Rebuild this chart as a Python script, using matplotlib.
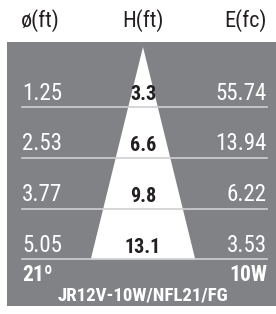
import matplotlib
matplotlib.use('Agg')
import matplotlib.pyplot as plt
from matplotlib import font_manager

# Data
diameters = ['1.25', '2.53', '3.77', '5.05']
heights = ['3.3', '6.6', '9.8', '13.1']
illuminance = ['55.74', '13.94', '6.22', '3.53']
headers = ['ø(ft)', 'H(ft)', 'E(fc)']
beam_angle = '21º'
wattage = '10W'
model = 'JR12V-10W/NFL21/FG'

names = {f.name for f in font_manager.fontManager.ttflist}
cond = [n for n in ['Liberation Sans Narrow', 'Roboto Condensed', 'DejaVu Sans'] if n in names]
fam = cond[0]
stretch = 'condensed' if fam == 'DejaVu Sans' else 'normal'

gray = '#818285'
W, H = 276, 314
fig = plt.figure(figsize=(W / 100, H / 100), dpi=100)
ax = fig.add_axes([0, 0, 1, 1])
ax.set_xlim(0, W)
ax.set_ylim(H, 0)
ax.axis('off')

# panel
ax.add_patch(plt.Rectangle((7, 42), W - 7, 264, color=gray, lw=0))

row0, step = 107, 50.8
rows = [row0 + step * i for i in range(len(heights))]
cx = 143
apex = rows[0] - 60
half = 0.246 * (rows[-1] - apex)
ax.fill([cx, cx - half, cx + half], [apex, rows[-1], rows[-1]], color='white', lw=0)

for y in rows:
    ax.plot([22, 267], [y, y], color='#d0d0d2', lw=1.2)

for y, d, h, e in zip(rows, diameters, heights, illuminance):
    ax.text(22, y - 14, d, ha='left', va='center', color='white', fontsize=16.5,
            family=fam, fontstretch=stretch)
    ax.text(267, y - 14, e, ha='right', va='center', color='white', fontsize=16.5,
            family=fam, fontstretch=stretch)
    ax.text(cx, y - 12, h, ha='center', va='center', color='#231f20', fontsize=14.5,
            fontweight='bold', family=fam, fontstretch=stretch)

for x, t in zip([40, 143, 245], headers):
    ax.text(x, 21, t, ha='center', va='center', color='#231f20', fontsize=16,
            family=fam, fontstretch=stretch)

ax.text(22, 275, beam_angle, ha='left', va='center', color='white', fontsize=15.5,
        fontweight='bold', family=fam, fontstretch=stretch)
ax.text(267, 275, wattage, ha='right', va='center', color='white', fontsize=15.5,
        fontweight='bold', family=fam, fontstretch=stretch)
ax.text(cx, 295, model, ha='center', va='center', color='white', fontsize=13.6,
        fontweight='bold', family=fam, fontstretch=stretch)

fig.savefig('out.png', dpi=100)
